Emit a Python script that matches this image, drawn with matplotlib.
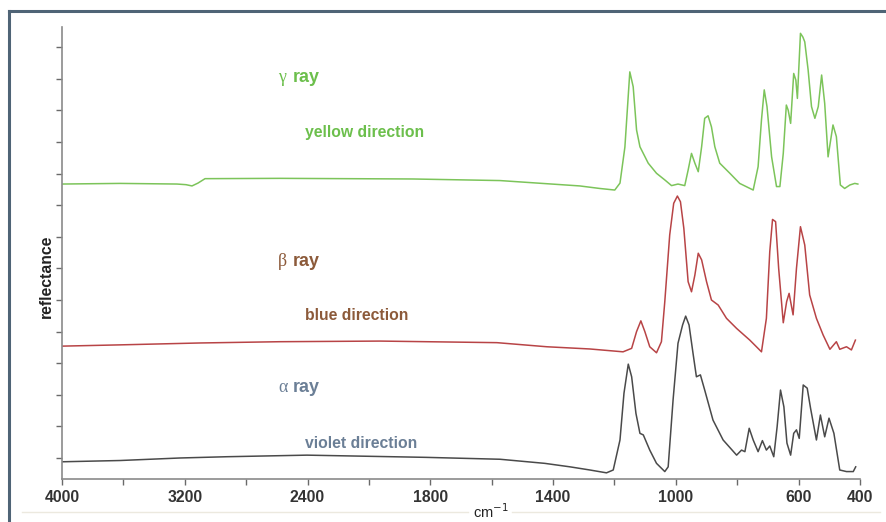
import matplotlib
matplotlib.use('Agg')
import matplotlib.pyplot as plt
import numpy as np

plt.rcParams['font.family'] = ['Liberation Sans', 'DejaVu Sans']

# wavenumber (cm-1) and reflectance (arbitrary, offset)
gamma_wn = [4000, 3622, 3251, 3192, 3153, 3114, 3068, 2580, 1885, 1573, 1313, 1248,
            1199, 1182, 1166, 1150, 1139, 1128, 1117, 1090, 1063, 1036, 1014, 993,
            971, 960, 949, 938, 927, 916, 906, 895, 884, 873, 857, 824, 792, 748,
            732, 721, 712, 703, 688, 672, 661, 650, 640, 634, 626, 616, 609, 604,
            594, 586, 580, 569, 558, 547, 536, 525, 515, 504, 488, 477, 464, 450,
            433, 417, 407]
gamma_r = [8.67, 8.69, 8.67, 8.65, 8.61, 8.70, 8.84, 8.85, 8.83, 8.78, 8.61, 8.53,
           8.48, 8.70, 9.84, 12.22, 11.75, 10.38, 9.85, 9.33, 9.01, 8.80, 8.62, 8.67,
           8.62, 9.11, 9.64, 9.33, 9.06, 9.85, 10.75, 10.83, 10.48, 9.85, 9.33, 9.01, 8.69, 8.48,
           9.22, 10.70, 11.65, 11.12, 9.53, 8.59, 8.59, 9.64, 11.17, 11.01, 10.59, 12.17, 11.96, 11.38,
           13.44, 13.32, 13.17, 12.28, 11.12, 10.75, 11.12, 12.12, 11.22, 9.53, 10.54, 10.17, 8.64, 8.53,
           8.64, 8.69, 8.67]

beta_wn = [4000, 3622, 3101, 2580, 2046, 1583, 1420, 1280, 1172, 1144, 1128, 1114,
           1101, 1085, 1063, 1047, 1036, 1020, 1007, 995, 985, 974, 960, 949, 938,
           927, 916, 900, 884, 862, 835, 802, 759, 721, 705, 694, 685, 675, 665,
           650, 639, 631, 618, 607, 594, 580, 564, 542, 520, 498, 477, 466, 444,
           428, 415]
beta_r = [3.54, 3.58, 3.64, 3.68, 3.70, 3.65, 3.52, 3.45, 3.36, 3.47, 4.00, 4.34,
          4.00, 3.52, 3.33, 3.68, 4.95, 7.06, 8.06, 8.29, 8.11, 7.27, 5.58, 5.26, 5.79,
          6.48, 6.27, 5.58, 5.00, 4.84, 4.42, 4.10, 3.73, 3.36, 4.42, 6.53, 7.55, 7.48, 6.00,
          4.28, 4.95, 5.21, 4.53, 6.00, 7.32, 6.74, 5.16, 4.42, 3.89, 3.44, 3.68, 3.44, 3.52,
          3.42, 3.73]

alpha_wn = [4000, 3622, 3231, 2925, 2404, 1821, 1573, 1427, 1345, 1280, 1226, 1204,
            1182, 1169, 1155, 1144, 1130, 1117, 1106, 1085, 1063, 1036, 1025, 1009,
            993, 978, 968, 957, 944, 933, 920, 906, 879, 846, 802, 786, 775, 761,
            748, 732, 718, 705, 694, 681, 670, 659, 648, 638, 626, 616, 607, 598,
            585, 572, 561, 542, 529, 515, 501, 485, 466, 444, 422, 414]
alpha_r = [-0.12, -0.08, 0.00, 0.04, 0.09, 0.02, -0.04, -0.17, -0.28, -0.38, -0.47, -0.38,
           0.57, 2.05, 2.97, 2.57, 1.41, 0.78, 0.73, 0.25, -0.17, -0.43, -0.28, 1.84,
           3.63, 4.21, 4.49, 4.21, 3.31, 2.57, 2.63, 2.15, 1.20, 0.57, 0.09, 0.25, 0.20, 0.94,
           0.57, 0.20, 0.55, 0.25, 0.38, 0.04, 0.99, 2.15, 1.62, 0.47, 0.09, 0.78, 0.89, 0.62,
           2.31, 2.21, 1.57, 0.57, 1.36, 0.67, 1.26, 0.78, -0.38, -0.43, -0.43, -0.28]

major_ticks = [4000, 3200, 2400, 1800, 1400, 1000, 600, 400]
minor_ticks = [3600, 2800, 2100, 1600, 1200, 800]

# the x axis changes scale at 2400 and 1800
scale_wn = [400, 1800, 2400, 4000]
scale_pos = [0, 7, 9, 13]


def fwd(x):
    return np.interp(x, scale_wn, scale_pos)


def inv(p):
    return np.interp(p, scale_pos, scale_wn)


W, H = 887, 522
fig = plt.figure(figsize=(W / 100, H / 100), dpi=100)
ax = fig.add_axes([62 / W, 1 - 479 / H, (860 - 62) / W, (479 - 27) / H])

ax.set_xscale('function', functions=(fwd, inv))
ax.plot(gamma_wn, gamma_r, color='#7cc45a', lw=1.1)
ax.plot(beta_wn, beta_r, color='#b84446', lw=1.1)
ax.plot(alpha_wn, alpha_r, color='#4a4a4a', lw=1.1)

ax.set_xlim(4000, 400)
ax.set_ylim(-0.665, 13.64)
ax.set_xticks(major_ticks)
ax.set_xticklabels([str(t) for t in major_ticks], fontweight='bold')
ax.set_xticks(minor_ticks, minor=True)
ax.set_yticks(range(14))
ax.set_yticklabels([])

for s in ['top', 'right']:
    ax.spines[s].set_visible(False)
for s in ['left', 'bottom']:
    ax.spines[s].set_color('#8a8a8a')
    ax.spines[s].set_linewidth(1.2)
ax.tick_params(axis='both', which='both', direction='out', length=4, width=1, color='#6a6a6a')
ax.tick_params(axis='x', labelsize=11.3, labelcolor='#333333', pad=4)

# labels for the three traces
def label(px, py, greek, name, direction, col):
    fig.text(px / W, 1 - py / H, greek, family=['Liberation Serif', 'DejaVu Serif'],
             fontsize=13, color=col, va='center', ha='left')
    fig.text((px + 15) / W, 1 - py / H, name, fontsize=13, fontweight='bold',
             color=col, va='center', ha='left')
    fig.text((px + 27) / W, 1 - (py + 55) / H, direction, fontsize=11.3, fontweight='bold',
             color=col, va='center', ha='left')

label(278, 78, 'γ', 'ray', 'yellow direction', '#6cbf4c')
label(278, 261, 'β', 'ray', 'blue direction', '#8c5a3a')
label(278, 388, 'α', 'ray', 'violet direction', '#6b7f96')

fig.text(46 / W, 1 - 276 / H, 'reflectance', rotation=90, fontsize=11.3,
         fontweight='bold', color='#222222', ha='center', va='center')
fig.text(491 / W, 1 - 512 / H, 'cm$^{-1}$', fontsize=10.5, color='#222222',
         ha='center', va='center')

# frame around the picture and the faint rule under the axis
fig.add_artist(plt.Line2D([9 / W, 9 / W], [0, 1 - 11 / H], color='#4f6476', lw=2.2))
fig.add_artist(plt.Line2D([9 / W, 1], [1 - 11 / H, 1 - 11 / H], color='#4f6476', lw=2.2))
fig.add_artist(plt.Line2D([22 / W, 468 / W], [1 - 512 / H] * 2, color='#ece9df', lw=1))
fig.add_artist(plt.Line2D([512 / W, 880 / W], [1 - 512 / H] * 2, color='#ece9df', lw=1))

fig.savefig('out.png', dpi=100)
